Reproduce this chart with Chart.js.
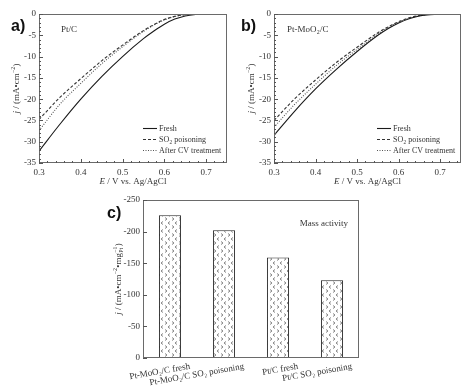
<!DOCTYPE html>
<html>
<head>
<meta charset="utf-8">
<title>ORR curves and mass activity</title>
<script src="https://cdn.jsdelivr.net/npm/chart.js@4.4.1/dist/chart.umd.min.js"></script>
<style>
  html, body { margin: 0; padding: 0; background: #fff; }
  body { width: 471px; height: 389px; position: relative; overflow: hidden; }
  .panel { position: absolute; }
  .tag { position: absolute; z-index: 2; font: bold 16px "Liberation Sans", Arial, sans-serif; color: #111; line-height: 16px; }
</style>
</head>
<body>
<div class="panel" style="left:0;top:0"><canvas id="chartA" width="236" height="192"></canvas></div>
<div class="panel" style="left:235px;top:0"><canvas id="chartB" width="236" height="192"></canvas></div>
<div class="panel" style="left:80px;top:185px"><canvas id="chartC" width="320" height="204"></canvas></div>
<div class="tag" style="left:11px;top:18px">a)</div>
<div class="tag" style="left:241px;top:18px">b)</div>
<div class="tag" style="left:107px;top:205px">c)</div>
<script>
// === Data ===
const potential = [0.30, 0.35, 0.40, 0.45, 0.50, 0.55, 0.575, 0.60, 0.625, 0.65, 0.675, 0.70, 0.75];

// Pt/C
const ptcFresh    = [-32.2, -25.9, -20.0, -14.7, -10.0, -5.8, -4.0, -2.4, -1.2, -0.45, -0.12, -0.02, 0];
const ptcPoisoned = [-24.8, -19.6, -15.2, -11.0, -7.3, -3.9, -2.5, -1.3, -0.55, -0.15, -0.03, 0, 0];
const ptcAfterCV  = [-27.4, -21.2, -16.3, -11.7, -7.7, -4.1, -2.6, -1.4, -0.6, -0.17, -0.04, 0, 0];

// Pt-MoO2/C
const moFresh    = [-28.5, -22.8, -17.6, -13.0, -8.8, -5.0, -3.4, -2.1, -1.1, -0.45, -0.15, -0.04, 0];
const moPoisoned = [-25.0, -19.9, -15.5, -11.4, -7.8, -4.4, -3.0, -1.8, -0.9, -0.35, -0.1, -0.02, 0];
const moAfterCV  = [-26.6, -21.2, -16.5, -12.1, -8.3, -4.7, -3.2, -1.95, -1.0, -0.4, -0.12, -0.03, 0];

const seriesNames = ['Fresh', 'SO2 poisoning', 'After CV treatment'];

// mass activity
const catalysts = ['Pt-MoO\u2082/C fresh', 'Pt-MoO\u2082/C SO\u2082 poisoning', 'Pt/C fresh', 'Pt/C SO\u2082 poisoning'];
const massActivity = [-226, -202, -159, -123];

// === Styles ===
const SERIF = '"Liberation Serif", "Times New Roman", serif';
Chart.defaults.font.family = SERIF;
Chart.defaults.color = '#333';

const lineStyles = [
  { color: '#1a1a1a', dash: [], width: 1.1 },
  { color: '#333', dash: [3, 2], width: 1.1 },
  { color: '#555', dash: [1, 1.5], width: 1.1 }
];
const legendSegs = [
  [{ t: 'Fresh' }],
  [{ t: 'SO', sub: '2' }, { t: ' poisoning' }],
  [{ t: 'After CV treatment' }]
];

// === Rich text (italic, sub/superscripts) ===
function drawRich(ctx, segs, x, y, size, align = 'left', rot = 0) {
  const small = size * 0.66;
  const font = (s, it) => `${it ? 'italic ' : ''}${s}px ${SERIF}`;
  let total = 0;
  const parts = segs.map(s => {
    ctx.font = font(size, s.i);
    const wt = s.t ? ctx.measureText(s.t).width : 0;
    ctx.font = font(small);
    const wsup = s.sup ? ctx.measureText(s.sup).width : 0;
    const wsub = s.sub ? ctx.measureText(s.sub).width : 0;
    const w = wt + Math.max(wsup, wsub) + (s.sup || s.sub ? size * 0.06 : 0);
    total += w;
    return { s, wt, w };
  });
  ctx.save();
  ctx.translate(x, y);
  ctx.rotate(rot);
  ctx.fillStyle = '#333';
  ctx.textAlign = 'left';
  ctx.textBaseline = 'alphabetic';
  let cx = align === 'center' ? -total / 2 : align === 'right' ? -total : 0;
  const base = size * 0.33;
  parts.forEach(({ s, wt, w }) => {
    if (s.t) { ctx.font = font(size, s.i); ctx.fillText(s.t, cx, base); }
    ctx.font = font(small);
    if (s.sup) ctx.fillText(s.sup, cx + wt + size * 0.03, base - size * 0.4);
    if (s.sub) ctx.fillText(s.sub, cx + wt + size * 0.03, base + size * 0.22);
    cx += w;
  });
  ctx.restore();
}

// === Frame, inward ticks, titles, legend ===
const decor = {
  id: 'decor',
  afterDraw(chart, args, o) {
    const { ctx, chartArea: a, scales: { x, y } } = chart;
    ctx.save();
    ctx.strokeStyle = '#6a6a6a';
    ctx.lineWidth = 1;
    ctx.strokeRect(Math.round(a.left) + 0.5, Math.round(a.top) + 0.5,
      Math.round(a.right - a.left) - 1, Math.round(a.bottom - a.top) - 1);

    ctx.strokeStyle = '#555';
    ctx.beginPath();
    const tickX = (v, len) => {
      const px = Math.round(x.getPixelForValue(v)) + 0.5;
      ctx.moveTo(px, a.bottom); ctx.lineTo(px, a.bottom - len);
    };
    const tickY = (v, len) => {
      const py = Math.round(y.getPixelForValue(v)) + 0.5;
      ctx.moveTo(a.left, py); ctx.lineTo(a.left + len, py);
    };
    if (o.xMinor) {
      x.ticks.forEach(t => tickX(t.value, 4));
      for (let k = Math.ceil(x.min / o.xMinor - 1e-6); k <= Math.floor(x.max / o.xMinor + 1e-6); k++) tickX(k * o.xMinor, 2);
    }
    y.ticks.forEach(t => tickY(t.value, 4));
    if (o.yMinor) {
      for (let k = Math.ceil(y.min / o.yMinor); k <= Math.floor(y.max / o.yMinor); k++) tickY(k * o.yMinor, 2);
    }
    ctx.stroke();

    (o.texts || []).forEach(t => {
      const [tx, ty] = t.at(a);
      drawRich(ctx, t.segs, tx, ty, t.size || 9, t.align, t.rot || 0);
    });

    if (o.legend) {
      const L = o.legend;
      chart.data.datasets.forEach((ds, i) => {
        const ly = Math.round(a.top + L.top + i * L.gap) + 0.5;
        const tx = a.right - L.textFromRight;
        ctx.save();
        ctx.strokeStyle = ds.borderColor;
        ctx.lineWidth = ds.borderWidth;
        ctx.setLineDash(ds.borderDash);
        ctx.beginPath();
        ctx.moveTo(tx - 16, ly); ctx.lineTo(tx - 2, ly);
        ctx.stroke();
        ctx.restore();
        drawRich(ctx, legendSegs[i], tx, ly, 8, 'left');
      });
    }
    ctx.restore();
  }
};

const tickFont = { family: SERIF, size: 9 };
const plainAxis = { grid: { display: false, drawTicks: false }, border: { display: false } };

// === Curve panels a) and b) ===
function curvePanel(id, inset, fresh, poisoned, afterCV, padRight, insetDx) {
  const datasets = [fresh, poisoned, afterCV].map((vals, i) => ({
    label: seriesNames[i],
    data: potential.map((e, k) => ({ x: e, y: vals[k] })),
    borderColor: lineStyles[i].color,
    borderDash: lineStyles[i].dash,
    borderWidth: lineStyles[i].width,
    pointRadius: 0,
    cubicInterpolationMode: 'monotone',
    fill: false
  }));
  return new Chart(document.getElementById(id), {
    type: 'line',
    data: { datasets },
    options: {
      responsive: false,
      animation: false,
      layout: { padding: { left: 0, right: padRight, top: 14, bottom: 0 } },
      plugins: {
        legend: { display: false },
        tooltip: { enabled: false },
        decor: {
          xMinor: 0.02,
          yMinor: 1,
          legend: { top: 114, gap: 11, textFromRight: 68 },
          texts: [
            { segs: inset, at: a => [a.left + insetDx, a.top + 15], align: 'left' },
            { segs: [{ t: 'E', i: 1 }, { t: ' / V vs. Ag/AgCl' }], at: a => [(a.left + a.right) / 2, a.bottom + 18], align: 'center' },
            { segs: [{ t: 'j', i: 1 }, { t: ' / (mA\u2022cm', sup: '\u22122' }, { t: ')' }], at: a => [a.left - 23, (a.top + a.bottom) / 2], align: 'center', rot: -Math.PI / 2 }
          ]
        }
      },
      scales: {
        x: {
          type: 'linear', min: 0.3, max: 0.75, ...plainAxis,
          afterFit: s => { s.height = 29; },
          ticks: { stepSize: 0.1, includeBounds: false, padding: 4, maxRotation: 0, font: tickFont, callback: v => v.toFixed(1) }
        },
        y: {
          min: -35, max: 0, ...plainAxis,
          afterFit: s => { s.width = 39; },
          ticks: { stepSize: 5, padding: 3, font: tickFont }
        }
      }
    },
    plugins: [decor]
  });
}

curvePanel('chartA', [{ t: 'Pt/C' }], ptcFresh, ptcPoisoned, ptcAfterCV, 9, 22);
curvePanel('chartB', [{ t: 'Pt-MoO', sub: '2' }, { t: '/C' }], moFresh, moPoisoned, moAfterCV, 10, 13);

// === Bar panel c) ===
function makeHatch() {
  const t = document.createElement('canvas');
  t.width = 7; t.height = 8;
  const g = t.getContext('2d');
  g.fillStyle = '#fff';
  g.fillRect(0, 0, 7, 8);
  g.strokeStyle = '#6a6a6a';
  g.lineWidth = 0.8;
  g.beginPath();
  g.moveTo(1, 0.5); g.lineTo(3, 2); g.lineTo(1, 3.5);
  g.moveTo(6, 4.5); g.lineTo(4, 6); g.lineTo(6, 7.5);
  g.stroke();
  return g.createPattern(t, 'repeat');
}

new Chart(document.getElementById('chartC'), {
  type: 'bar',
  data: {
    labels: catalysts,
    datasets: [{
      data: massActivity,
      backgroundColor: makeHatch(),
      borderColor: '#222',
      borderWidth: 1,
      borderSkipped: false,
      barPercentage: 0.41,
      categoryPercentage: 1
    }]
  },
  options: {
    responsive: false,
    animation: false,
    layout: { padding: { left: 0, right: 41, top: 15, bottom: 0 } },
    plugins: {
      legend: { display: false },
      tooltip: { enabled: false },
      decor: {
        texts: [
          { segs: [{ t: 'Mass activity' }], at: a => [a.right - 11, a.top + 23], align: 'right' },
          { segs: [{ t: 'j', i: 1 }, { t: ' / (mA\u2022cm', sup: '\u22122' }, { t: '\u2022mg', sub: 'Pt', sup: '\u22121' }, { t: ')' }],
            at: a => [a.left - 25, (a.top + a.bottom) / 2], align: 'center', rot: -Math.PI / 2 }
        ]
      }
    },
    scales: {
      x: {
        ...plainAxis,
        afterFit: s => { s.height = 31; },
        ticks: { autoSkip: false, minRotation: 10, maxRotation: 10, labelOffset: 20, padding: 3, font: tickFont }
      },
      y: {
        reverse: true, min: -250, max: 0, ...plainAxis,
        afterFit: s => { s.width = 63; },
        ticks: { stepSize: 50, padding: 3, font: tickFont }
      }
    }
  },
  plugins: [decor]
});
</script>
</body>
</html>
